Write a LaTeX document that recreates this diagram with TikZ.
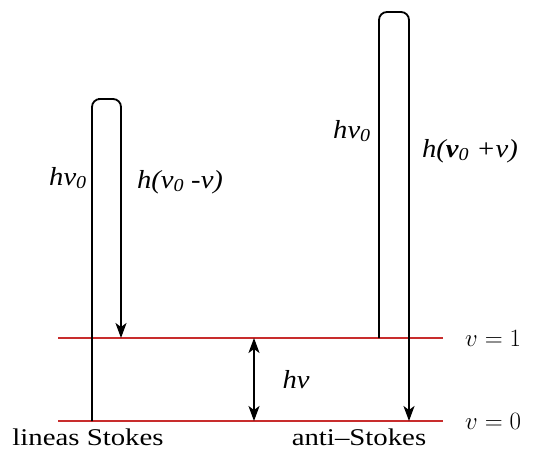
\documentclass[tikz,border=0pt]{standalone}
\usepackage{fontspec}
\setmainfont{Liberation Serif}
\usetikzlibrary{arrows.meta}
\definecolor{lvl}{RGB}{200,45,45}
\tikzset{
  level/.style={draw=lvl, line width=1.6pt},
  bar/.style={draw=black, line width=1.8pt, rounded corners=8pt},
  tip/.style={-{Stealth[length=15pt,width=11pt,inset=4pt]}},
  lbl/.style={font=\fontsize{26}{30}\selectfont\itshape, inner sep=0pt},
  txt/.style={font=\fontsize{24}{28}\selectfont, inner sep=0pt},
  mth/.style={font=\fontsize{24}{28}\selectfont, inner sep=0pt}
}
\newcommand{\wide}[2][1.1]{\scalebox{#1}[1]{#2}}
\begin{document}
\begin{tikzpicture}[x=1pt,y=-1pt]
\useasboundingbox (0,0) rectangle (560,450);
% levels
\coordinate (l1a) at (58,338); \coordinate (l1b) at (443,338);
\coordinate (l0a) at (58,421); \coordinate (l0b) at (443,421);
\draw[level] (l1a) -- (l1b);
\draw[level] (l0a) -- (l0b);
% Stokes bar
\coordinate (s0) at (92,421); \coordinate (stop) at (106,99); \coordinate (s1) at (121,338);
\draw[bar, tip] (s0) |- (stop) -| (s1);
% anti-Stokes bar
\coordinate (a0) at (379,338); \coordinate (atop) at (394,12); \coordinate (a1) at (409,421);
\draw[bar, tip] (a0) |- (atop) -| (a1);
% hv arrow
\coordinate (h1) at (254,338); \coordinate (h0) at (254,421);
\draw[line width=1.8pt, {Stealth[length=15pt,width=11pt,inset=4pt]}-{Stealth[length=15pt,width=11pt,inset=4pt]}] (h1) -- (h0);
% labels
\node[lbl] (t1) at (68,178) {\wide{hv\textsubscript{0}}};
\node[lbl] (t2) at (180,182) {\wide{h(v\textsubscript{0} -v)}};
\node[lbl] (t3) at (352,131) {\wide{hv\textsubscript{0}}};
\node[lbl] (t4) at (470,151) {\wide{h(\textbf{v}\textsubscript{0} +v)}};
\node[lbl] (t5) at (296,380) {\wide{hv}};
\node[mth, anchor=west] (t6) at (465,338) {$v = 1$};
\node[mth, anchor=west] (t7) at (465,421) {$v = 0$};
\node[txt] (t8) at (88,437) {\wide[1.2]{lineas Stokes}};
\node[txt] (t9) at (359,437) {\wide[1.2]{anti–Stokes}};
\end{tikzpicture}
\end{document}
